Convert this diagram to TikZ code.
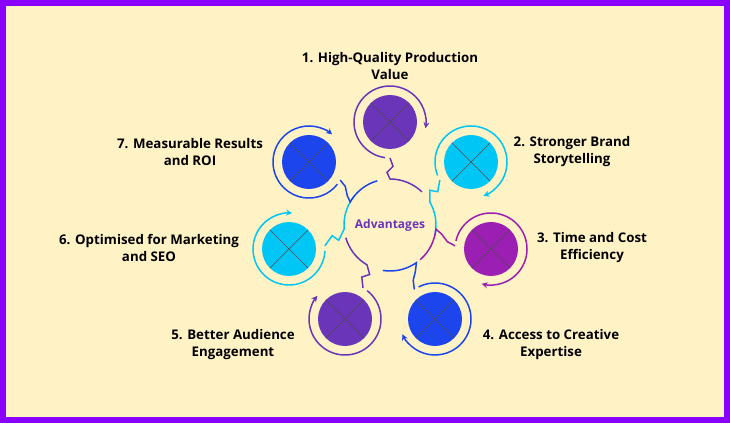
\documentclass[tikz,border=0pt]{standalone}
\usepackage{fontspec}
\setmainfont{Open Sans}
\usetikzlibrary{arrows.meta,calc}
\definecolor{bg}{HTML}{FFF3C6}
\definecolor{frame}{HTML}{8A00FF}
\definecolor{cpur}{HTML}{6A35B8}
\definecolor{ccyan}{HTML}{00C6F5}
\definecolor{cmag}{HTML}{9C1FB3}
\definecolor{cblue}{HTML}{1D45EE}
\tikzset{lbl/.style={font=\bfseries\fontsize{13.3}{17}\selectfont,align=center,text=black,inner sep=0},
 ring/.style={line width=1.5pt,-{Stealth[length=6pt,width=6pt]}},
 conn/.style={line width=1.5pt,arrows=-}}
\newcommand{\petal}[5]{% name, x, y, color, hub angle (math)
 \fill[#4] (#2,#3) circle (27);
 \begin{scope}
 \clip (#2,#3) circle (27);
 \draw[black!70,line width=0.4pt] (#2-27,#3-27) -- (#2+27,#3+27) (#2-27,#3+27) -- (#2+27,#3-27);
 \end{scope}
 \node[circle,minimum size=54pt,inner sep=0] (#1) at (#2,#3) {};
 \draw[ring,#4] ([shift={(#5-8:36)}]#2,#3) arc[start angle=#5-8,end angle=#5-280,radius=36];
}
\begin{document}
\begin{tikzpicture}[x=1pt,y=1pt]
\fill[bg] (0,0) rectangle (730,423);
\draw[frame,line width=6pt] (3,3) rectangle (727,420);
\coordinate (hub) at (390,198);
\node[font=\bfseries\fontsize{12}{14}\selectfont,text=cpur] (adv) at (hub) {Advantages};
\petal{p1}{390}{301}{cpur}{270}
\petal{p2}{471}{261}{ccyan}{210}
\petal{p3}{491}{174}{cmag}{175}
\petal{p4}{435}{104}{cblue}{125}
\petal{p5}{345}{104}{cpur}{60}
\petal{p6}{289}{174}{ccyan}{5}
\petal{p7}{309}{261}{cblue}{-30}
\foreach \hn/\hc/\ha in {p1/cpur/270,p2/ccyan/210,p3/cmag/175,p4/cblue/125,p5/cpur/60,p6/ccyan/5,p7/cblue/-30}{
 \pgfmathsetmacro{\hb}{\ha+180}
 \draw[conn,draw=\hc] ([shift={(\ha:36)}]\hn.center) -- ($(\hn.center)!0.43!(hub)+(\ha+90:3)$) -- ($(\hn.center)!0.49!(hub)+(\ha-90:3)$) -- ([shift={(\hb:46)}]hub) arc[start angle=\hb,end angle=\hb-44,radius=46];
}
\node[lbl] (t1) at (390,357) {1. High-Quality Production\\Value};
\node[lbl] (t2) at (572,271) {2. Stronger Brand\\Storytelling};
\node[lbl] (t3) at (592,175) {3. Time and Cost\\Efficiency};
\node[lbl] (t4) at (551,78) {4. Access to Creative\\Expertise};
\node[lbl] (t5) at (233,78) {5. Better Audience\\Engagement};
\node[lbl] (t6) at (149,175) {6. Optimised for Marketing\\and SEO};
\node[lbl] (t7) at (190,271) {7. Measurable Results\\and ROI};
\end{tikzpicture}
\end{document}
